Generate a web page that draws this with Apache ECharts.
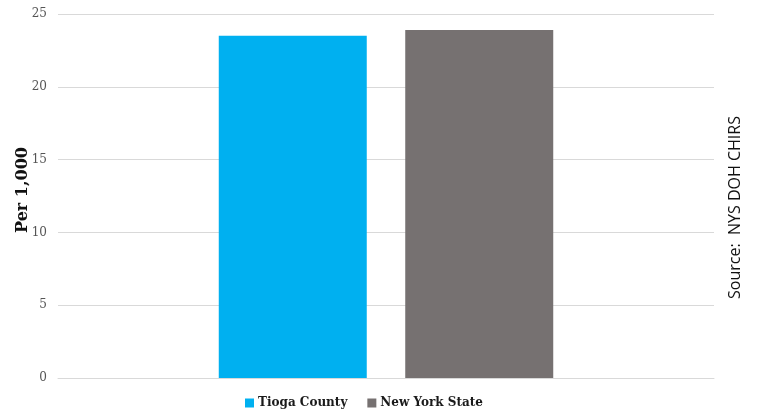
<!DOCTYPE html>
<html><head><meta charset="utf-8">
<script src="https://cdn.jsdelivr.net/npm/echarts@6/dist/echarts.min.js"></script>
<style>html,body{margin:0;padding:0;background:#fff}#c{width:757px;height:415px}</style>
</head><body><div id="c"></div>
<script>
var categories = [''];
var seriesNames = ['Tioga County', 'New York State'];
var tiogaValues = [23.5];
var nysValues = [23.9];
var yTicks = [0, 5, 10, 15, 20, 25];

var chart = echarts.init(document.getElementById('c'));
chart.setOption({
  animation: false,
  grid: { left: 58, right: 43, top: 14, bottom: 37, containLabel: false, outerBoundsMode: 'none' },
  legend: {
    data: seriesNames, bottom: 1, left: 240,
    itemWidth: 9, itemHeight: 9, itemGap: 20,
    icon: 'rect',
    textStyle: { fontFamily: 'DejaVu Serif', fontWeight: 'bold', fontSize: 12, color: '#1a1a1a', padding: [0, 0, 0, -1] }
  },
  xAxis: {
    type: 'category', data: categories,
    axisLine: { lineStyle: { color: '#d9d9d9' } },
    axisTick: { show: false }, axisLabel: { show: false }
  },
  yAxis: {
    type: 'value', min: yTicks[0], max: yTicks[yTicks.length - 1], interval: 5,
    name: 'Per 1,000', nameLocation: 'middle', nameGap: 27, nameMoveOverlap: false,
    nameTextStyle: { fontFamily: 'DejaVu Serif', fontWeight: 'bold', fontSize: 16, color: '#111', padding: [0, 0, 0, 12] },
    axisLine: { show: false }, axisTick: { show: false },
    axisLabel: { fontFamily: 'DejaVu Serif', fontSize: 12, color: '#555', margin: 11 },
    splitLine: { lineStyle: { color: '#d9d9d9' } }
  },
  series: [
    { name: seriesNames[0], type: 'bar', data: tiogaValues, barWidth: 148, barGap: '26%', itemStyle: { color: '#00b0f0' } },
    { name: seriesNames[1], type: 'bar', data: nysValues, barWidth: 148, itemStyle: { color: '#767171' } }
  ],
  graphic: [{
    type: 'text', left: 727, top: 'middle', rotation: Math.PI / 2,
    style: { text: 'Source:  NYS DOH CHIRS', font: '16px "Open Sans"', fill: '#111' }
  }]
});
</script></body></html>
